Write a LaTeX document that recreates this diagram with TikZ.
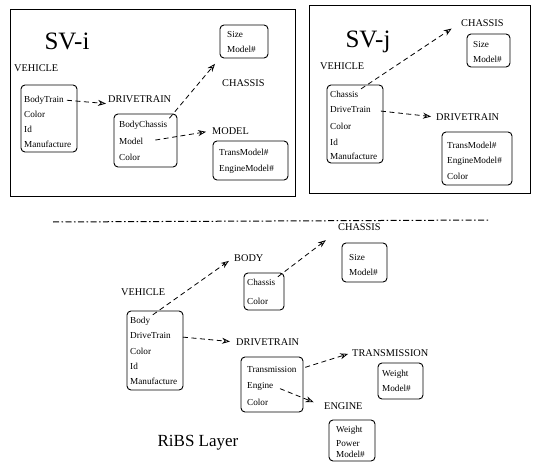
\documentclass[tikz,border=0pt]{standalone}
\usepackage{fontspec}
\setmainfont{Liberation Serif}
\usetikzlibrary{arrows.meta,fit}

\begin{document}
\begin{tikzpicture}[x=1pt,y=-1pt,>={Stealth[open,length=8pt,width=6pt]},
  frame/.style={draw,line width=1pt,inner sep=0pt},
  rec/.style={draw,rounded corners=4pt,line width=0.9pt,inner sep=0pt},
  attr/.style={anchor=west,inner sep=0pt,text height=6.5pt,text depth=2pt,font=\fontsize{9.2}{10}\selectfont},
  cls/.style={anchor=west,inner sep=1pt,font=\fontsize{10.3}{12}\selectfont},
  bigtitle/.style={anchor=base,inner sep=0pt,font=\fontsize{25}{28}\selectfont},
  link/.style={->,dash pattern=on 5pt off 3.5pt,line width=0.8pt,shorten <=3pt,shorten >=2pt}]
  \useasboundingbox (0,0) rectangle (534,462);

  % ---- SV-i
  \node[frame, fit={(10,10)(295,196)}] (svi) {};
  \node[bigtitle] (svit) at (67,50) {SV-i};
  \node[cls] (vil) at (13,68) {VEHICLE};
  \node[rec, fit={(21,85)(77,152)}] (vi) {};
  \node[attr] (vi-bt) at (24,100) {BodyTrain};
  \node[attr] (vi-co) at (24,115) {Color};
  \node[attr] (vi-id) at (24,130) {Id};
  \node[attr] (vi-ma) at (24,145) {Manufacture};
  \node[cls] (vidl) at (107,99) {DRIVETRAIN};
  \node[rec, fit={(114,114)(177,167)}] (vid) {};
  \node[attr] (vid-bc) at (119,125) {BodyChassis};
  \node[attr] (vid-mo) at (119,142) {Model};
  \node[attr] (vid-co) at (119,158) {Color};
  \node[rec, fit={(220,25)(268,58)}] (vic) {};
  \node[attr] (vic-si) at (227,35) {Size};
  \node[attr] (vic-mo) at (227,50) {Model\#};
  \node[cls] (vicl) at (221,83) {CHASSIS};
  \node[cls] (viml) at (211,131) {MODEL};
  \node[rec, fit={(213,141)(288,180)}] (vim) {};
  \node[attr] (vim-tm) at (219,153) {TransModel\#};
  \node[attr] (vim-em) at (219,169) {EngineModel\#};

  \path[link] (vi-bt.east) edge[shorten >=1pt] (vidl.south west);
  \path[link] (vid-bc.north east) edge[shorten >=7pt] (vic.south west);
  \path[link] (vid-mo.east) edge[shorten <=12pt,shorten >=5pt] (viml.west);

  % ---- SV-j
  \node[frame, fit={(309,6)(530,193)}] (svj) {};
  \node[bigtitle] (svjt) at (368,48) {SV-j};
  \node[cls] (vjl) at (319,66) {VEHICLE};
  \node[rec, fit={(327,85)(383,163)}] (vj) {};
  \node[attr] (vj-ch) at (330,95) {Chassis};
  \node[attr] (vj-dt) at (330,110) {DriveTrain};
  \node[attr] (vj-co) at (330,127) {Color};
  \node[attr] (vj-id) at (330,143) {Id};
  \node[attr] (vj-ma) at (330,157) {Manufacture};
  \node[cls] (vjcl) at (460,23) {CHASSIS};
  \node[rec, fit={(467,34)(510,67)}] (vjc) {};
  \node[attr] (vjc-si) at (473,45) {Size};
  \node[attr] (vjc-mo) at (473,60) {Model\#};
  \node[cls] (vjdl) at (435,117) {DRIVETRAIN};
  \node[rec, fit={(442,132)(512,185)}] (vjd) {};
  \node[attr] (vjd-tm) at (447,146) {TransModel\#};
  \node[attr] (vjd-em) at (447,161) {EngineModel\#};
  \node[attr] (vjd-co) at (447,177) {Color};

  \path[link] (vj-ch.north east) edge[shorten >=10pt] (vjcl.west);
  \path[link] (vj-dt.east) edge[shorten <=10pt,shorten >=4pt] (vjdl.west);

  % ---- separator
  \coordinate (sepl) at (53,222);
  \coordinate (sepr) at (490,220);
  \draw[line width=1pt,dash pattern=on 6pt off 2.5pt on 1.5pt off 2.5pt] (sepl) -- (sepr);

  % ---- RiBS layer
  \node[cls] (rcl) at (337,227) {CHASSIS};
  \node[rec, fit={(342,243)(387,282)}] (rc) {};
  \node[attr] (rc-si) at (349,258) {Size};
  \node[attr] (rc-mo) at (349,273) {Model\#};
  \node[cls] (rbl) at (233,258) {BODY};
  \node[rec, fit={(244,273)(284,310)}] (rb) {};
  \node[attr] (rb-ch) at (247,283) {Chassis};
  \node[attr] (rb-co) at (247,302) {Color};
  \node[cls] (rvl) at (120,292) {VEHICLE};
  \node[rec, fit={(127,311)(183,390)}] (rv) {};
  \node[attr] (rv-bo) at (130,321) {Body};
  \node[attr] (rv-dt) at (130,336) {DriveTrain};
  \node[attr] (rv-co) at (130,352) {Color};
  \node[attr] (rv-id) at (130,367) {Id};
  \node[attr] (rv-ma) at (130,382) {Manufacture};
  \node[cls] (rdl) at (235,342) {DRIVETRAIN};
  \node[rec, fit={(241,357)(303,412)}] (rd) {};
  \node[attr] (rd-tr) at (247,370) {Transmission};
  \node[attr] (rd-en) at (247,386) {Engine};
  \node[attr] (rd-co) at (247,403) {Color};
  \node[cls] (rtl) at (351,353) {TRANSMISSION};
  \node[rec, fit={(378,363)(423,399)}] (rt) {};
  \node[attr] (rt-we) at (382,374) {Weight};
  \node[attr] (rt-mo) at (382,389) {Model\#};
  \node[cls] (rel) at (323,406) {ENGINE};
  \node[rec, fit={(329,420)(375,461)}] (re) {};
  \node[attr] (re-we) at (336,430) {Weight};
  \node[attr] (re-po) at (336,444) {Power};
  \node[attr] (re-mo) at (336,455) {Model\#};
  \node[anchor=base,inner sep=0pt,font=\fontsize{17}{20}\selectfont] (ribs) at (198,446) {RiBS Layer};

  \path[link] (rb-ch.north east) edge[shorten >=14pt] (rcl.south west);
  \path[link] (rv-bo.north east) edge[shorten >=5pt] (rbl.west);
  \path[link] (rv-dt.east) edge[shorten <=12pt,shorten >=5pt] (rdl.west);
  \path[link] (rd-tr.east) edge[shorten <=9pt,shorten >=3pt] (rtl.west);
  \path[link] (rd-en.east) edge[shorten <=7pt,shorten >=10pt] (rel.west);
\end{tikzpicture}
\end{document}
